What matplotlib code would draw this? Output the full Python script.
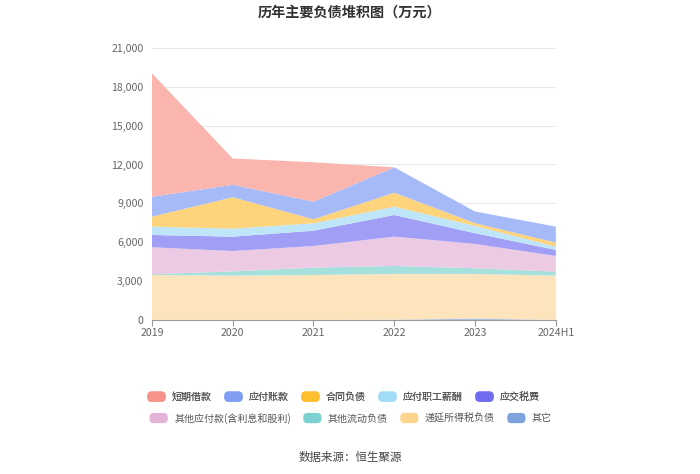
import matplotlib
matplotlib.use("Agg")
import matplotlib.pyplot as plt
from matplotlib.patches import Patch, FancyBboxPatch
from matplotlib.legend_handler import HandlerPatch

plt.rcParams['font.family'] = ['Noto Sans CJK SC', 'DejaVu Sans']

# --- data (万元), stack order bottom -> top ---
years = ["2019", "2020", "2021", "2022", "2023", "2024H1"]
qita = [0, 0, 0, 20, 100, 0]
diyan_suodeshui = [3470, 3420, 3470, 3530, 3450, 3420]
qita_liudong = [60, 330, 570, 620, 440, 310]
qita_yingfu = [2080, 1570, 1670, 2260, 1880, 1210]
yingjiao_shuifei = [950, 1110, 1180, 1670, 830, 465]
yingfu_xinchou = [640, 620, 570, 640, 560, 255]
hetong_fuzhai = [770, 2420, 310, 1080, 210, 310]
yingfu_zhangkuan = [1540, 960, 1360, 1960, 900, 1235]
duanqi_jiekuan = [9530, 2030, 3040, 0, 0, 0]

legend_names = ["短期借款", "应付账款", "合同负债", "应付职工薪酬", "应交税费",
                "其他应付款(含利息和股利)", "其他流动负债", "递延所得税负债", "其它"]

# --- styles ---
stack_series = [qita, diyan_suodeshui, qita_liudong, qita_yingfu, yingjiao_shuifei,
                yingfu_xinchou, hetong_fuzhai, yingfu_zhangkuan, duanqi_jiekuan]
area_colors = ["#a9bfe6", "#fde4bd", "#a6e0dd", "#eccae3", "#a09ff5",
               "#bfe6f8", "#fdd47b", "#a6baf8", "#f9b5ae"]
swatch_colors = ["#f5928a", "#7f9ef2", "#fcc02f", "#a3dcf8", "#6f6cef",
                 "#e3b3d8", "#7dd2d1", "#fcd48e", "#7ea2dc"]


class RoundBoxHandler(HandlerPatch):
    def create_artists(self, legend, orig_handle, xdescent, ydescent,
                       width, height, fontsize, trans):
        p = FancyBboxPatch((-xdescent + 1, -ydescent), width - 2, height,
                           boxstyle="round,pad=0,rounding_size=3",
                           facecolor=orig_handle.get_facecolor(),
                           edgecolor="none", transform=trans)
        return [p]


fig = plt.figure(figsize=(7.0, 4.74), dpi=100)
ax = fig.add_axes([0.217, 0.325, 0.577, 0.574])

x = list(range(len(years)))
ax.stackplot(x, *stack_series, colors=area_colors, linewidth=0, zorder=2)

ax.set_xlim(0, len(years) - 1)
ax.set_ylim(0, 21000)
ax.set_yticks(range(0, 21001, 3000))
ax.set_yticklabels([f"{v:,}" for v in range(0, 21001, 3000)])
ax.set_xticks(x)
ax.set_xticklabels(years)

ax.grid(axis="y", color="#e8e8e8", linewidth=0.8, zorder=0)
for side in ["top", "right", "left"]:
    ax.spines[side].set_visible(False)
ax.spines["bottom"].set_color("#999999")
ax.spines["bottom"].set_zorder(3)
ax.tick_params(axis="y", length=0, labelsize=7.6, labelcolor="#666666", pad=6)
ax.tick_params(axis="x", length=4, color="#999999", labelsize=7.6,
               labelcolor="#666666", pad=2)

fig.text(0.5, 0.974, "历年主要负债堆积图（万元）", ha="center", va="center",
         fontsize=10.2, fontweight="bold", color="#333333")

handles = [Patch(facecolor=c, label=n) for c, n in zip(swatch_colors, legend_names)]
leg_kw = dict(frameon=False, fontsize=7.2, handlelength=2.1, handleheight=1.2,
              handletextpad=0.5, columnspacing=1.1, labelcolor="#555555",
              handler_map={Patch: RoundBoxHandler()}, loc="center")
leg1 = fig.legend(handles=handles[:5], ncol=5, bbox_to_anchor=(0.49, 0.163), **leg_kw)
fig.add_artist(leg1)
fig.legend(handles=handles[5:], ncol=4, bbox_to_anchor=(0.50, 0.118), **leg_kw)

fig.text(0.5, 0.034, "数据来源：恒生聚源", ha="center", va="center",
         fontsize=8.3, color="#444444")

fig.savefig("out.png", dpi=100)
